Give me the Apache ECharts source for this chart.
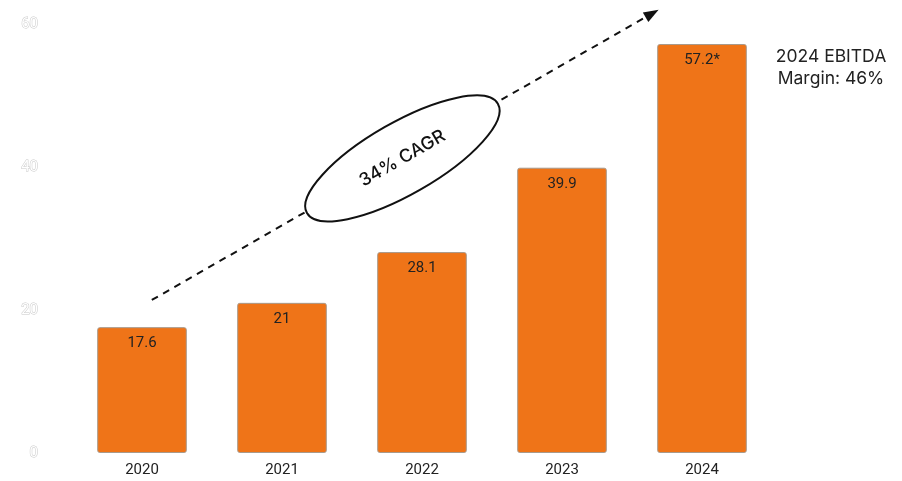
<!DOCTYPE html>
<html><head><meta charset="utf-8">
<script src="https://cdn.jsdelivr.net/npm/echarts@6/dist/echarts.min.js"></script>
<style>html,body{margin:0;padding:0;background:#fff}#c{width:902px;height:481px}</style>
</head><body><div id="c"></div>
<script>
var categories = ['2020', '2021', '2022', '2023', '2024'];
var values = [17.6, 21, 28.1, 39.9, 57.2];
var valueLabels = ['17.6', '21', '28.1', '39.9', '57.2*'];
var yTicks = [0, 20, 40, 60];
var cagrText = '34% CAGR';
var noteText = '2024 EBITDA\nMargin: 46%';
// trend arrow in data space: [category index (fractional), value]
var arrowStart = [0.07, 21.4];
var arrowEnd = [3.69, 62];
var ellipseCenter = [1.86, 41.2];

var chart = echarts.init(document.getElementById('c'));
var option = {
  animation: false,
  grid: {left: 72, right: 130, top: 24, bottom: 28, containLabel: false},
  xAxis: {
    type: 'category', data: categories,
    axisLine: {show: false}, axisTick: {show: false},
    axisLabel: {color: '#222', fontSize: 15, fontFamily: 'Roboto', margin: 10}
  },
  yAxis: {
    type: 'value', min: yTicks[0], max: yTicks[yTicks.length - 1], interval: 20,
    splitLine: {show: false}, axisLine: {show: false}, axisTick: {show: false},
    axisLabel: {color: '#fff', textBorderColor: '#c8c8c8', textBorderWidth: 1, fontSize: 15, fontFamily: 'Roboto', margin: 34}
  },
  series: [{
    type: 'bar', data: values, barWidth: '64%',
    itemStyle: {color: '#EF7418', borderColor: '#a89a8c', borderWidth: 1, borderRadius: 2},
    label: {
      show: true, position: 'insideTop', distance: 9, color: '#222', fontSize: 15, fontFamily: 'Roboto',
      formatter: function (p) { return valueLabels[p.dataIndex]; }
    }
  }]
};
chart.setOption(option);

function toPx(pt) {
  var i0 = Math.floor(pt[0]);
  var a = chart.convertToPixel({gridIndex: 0}, [i0, pt[1]]);
  var b = chart.convertToPixel({gridIndex: 0}, [i0 + 1, pt[1]]);
  var f = pt[0] - i0;
  return [a[0] + (b[0] - a[0]) * f, a[1]];
}
var p0 = toPx(arrowStart);
var p1 = toPx(arrowEnd);
var pc = toPx(ellipseCenter);
var ang = Math.atan2(p0[1] - p1[1], p1[0] - p0[0]);
var L = 15, W = 5.5;
var ux = Math.cos(ang), uy = -Math.sin(ang);
var bx = p1[0] - ux * L, by = p1[1] - uy * L;
var gx = chart.convertToPixel({gridIndex: 0}, [4, 0])[0];
chart.setOption({
  graphic: [
    {type: 'line', z: 10, shape: {x1: p0[0], y1: p0[1], x2: bx, y2: by},
     style: {stroke: '#111', lineWidth: 2, lineDash: [7, 6]}},
    {type: 'polygon', z: 10, shape: {points: [[p1[0], p1[1]], [bx - uy * W, by + ux * W], [bx + uy * W, by - ux * W]]},
     style: {fill: '#111'}},
    {type: 'ellipse', z: 11, x: pc[0], y: pc[1], rotation: ang,
     shape: {cx: 0, cy: 0, rx: 110, ry: 36},
     style: {fill: '#fff', stroke: '#111', lineWidth: 2}},
    {type: 'text', z: 12, x: pc[0], y: pc[1], rotation: ang,
     style: {text: cagrText, fill: '#111', font: '500 18px Inter', align: 'center', verticalAlign: 'middle'}},
    {type: 'text', z: 12, x: gx + 129, y: 68,
     style: {text: noteText, fill: '#222', font: '17.5px Inter', align: 'center', verticalAlign: 'middle', lineHeight: 22}}
  ]
});
</script></body></html>
